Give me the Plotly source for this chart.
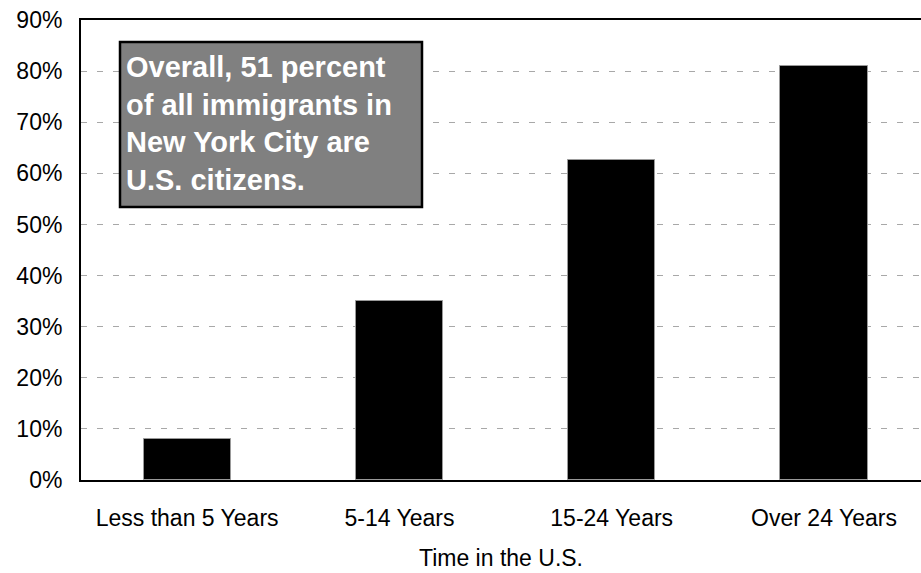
import plotly.graph_objects as go

categories = ["Less than 5 Years", "5-14 Years", "15-24 Years", "Over 24 Years"]
citizen_pct = [8, 35, 62.7, 81]
y_ticks = [0, 10, 20, 30, 40, 50, 60, 70, 80, 90]
y_tick_labels = [f"{v}%" for v in y_ticks]
x_title = "Time in the U.S."
note_text = "Overall, 51 percent<br>of all immigrants in<br>New York City are<br>U.S. citizens."

FONT = "Liberation Sans, Arial, Helvetica, sans-serif"

fig = go.Figure()
fig.add_trace(go.Bar(
    x=categories, y=citizen_pct, width=0.41,
    marker=dict(color="black", line=dict(color="#999999", width=1)),
    hoverinfo="skip",
))

fig.update_layout(
    width=921, height=573,
    margin=dict(l=81, r=0, t=20, b=93, autoexpand=False),
    paper_bgcolor="white", plot_bgcolor="white",
    showlegend=False,
    font=dict(family=FONT, color="black", size=23),
    bargap=0,
)
fig.update_xaxes(
    range=[-0.5, 3.457], automargin=False,
    showline=True, linecolor="black", linewidth=2, mirror=True,
    showgrid=False, ticks="outside", ticklen=16, tickcolor="rgba(0,0,0,0)",
    tickfont=dict(size=23, family=FONT),
    title=dict(text=x_title, font=dict(size=23, family=FONT), standoff=20),
)
fig.update_yaxes(
    range=[0, 90], tickvals=y_ticks, ticktext=y_tick_labels, automargin=False,
    showline=True, linecolor="black", linewidth=2,
    showgrid=True, gridcolor="#a8a8a8", gridwidth=1, griddash="6px,10px",
    zeroline=False,
    ticks="outside", ticklen=12, tickcolor="rgba(0,0,0,0)",
    tickfont=dict(size=23, family=FONT),
)

# note box
fig.add_shape(type="rect", xref="paper", yref="paper",
              x0=(120 - 81) / 840, x1=(422 - 81) / 840,
              y0=(480 - 207) / 460, y1=(480 - 42) / 460,
              fillcolor="#808080", line=dict(color="black", width=2.5), layer="above")
fig.add_annotation(
    xref="paper", yref="paper",
    x=(124 - 81) / 840, y=(480 - 123) / 460,
    xanchor="left", yanchor="middle", align="left",
    text="<b>" + note_text + "</b>", showarrow=False,
    font=dict(size=29, color="white", family=FONT),
)

fig.write_html(
    "out.html",
    config={"displayModeBar": False},
    post_script="document.body.style.margin='0';document.body.style.overflow='hidden';",
)
